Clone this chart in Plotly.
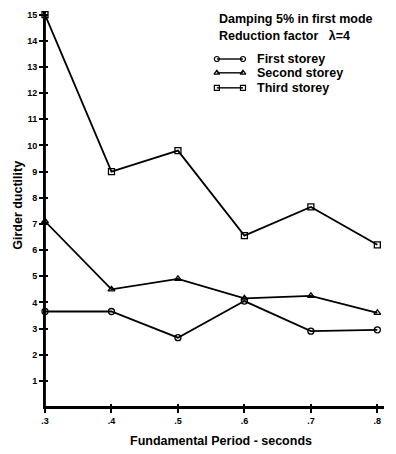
import plotly.graph_objects as go

period = [0.3, 0.4, 0.5, 0.6, 0.7, 0.8]
first_storey = [3.65, 3.65, 2.65, 4.05, 2.9, 2.95]
second_storey = [7.1, 4.5, 4.9, 4.15, 4.25, 3.6]
third_storey = [15.0, 9.0, 9.8, 6.55, 7.65, 6.2]
series_names = ["First storey", "Second storey", "Third storey"]
x_ticks = [0.3, 0.4, 0.5, 0.6, 0.7, 0.8]
x_tick_labels = [".3", ".4", ".5", ".6", ".7", ".8"]
y_ticks = list(range(1, 16))

FONT = "Liberation Sans"
TXT = dict(family=FONT, size=12.5, color="black", weight="bold")
TICKF = dict(family=FONT, size=9, color="black", weight="bold")
X_RANGE = [0.3, 0.81]
Y_RANGE = [0, 15.1]

fig = go.Figure()
symbols = ["circle-open", "triangle-up-open", "square-open"]
for name, vals, sym in zip(series_names, [first_storey, second_storey, third_storey], symbols):
    fig.add_trace(go.Scatter(
        x=period, y=vals, name=name, mode="lines+markers",
        line=dict(color="black", width=1.8),
        marker=dict(symbol=sym, size=6, color="black", line=dict(width=1.3, color="black")),
        cliponaxis=False, showlegend=False,
    ))

# manual compact legend (glyphs on an overlay axis spanning the plot area in 0..1 units)
leg_rows = [0.881, 0.846, 0.808]
gx0, gx1, tx = 0.507, 0.584, 0.619
for name, sym, ry in zip(series_names, symbols, leg_rows):
    fig.add_trace(go.Scatter(
        x=[gx0, gx1], y=[ry, ry], mode="lines+markers", xaxis="x2", yaxis="y2",
        line=dict(color="black", width=1.4),
        marker=dict(symbol=sym, size=5, color="black", line=dict(width=1.2, color="black")),
        showlegend=False, hoverinfo="skip", cliponaxis=False,
    ))

axis_common = dict(showgrid=False, zeroline=False, showline=True, linecolor="black", linewidth=1.8,
                   ticks="outside", ticklen=4, tickwidth=1.5, tickcolor="black", automargin=False,
                   tickfont=TICKF)
hidden = dict(showgrid=False, zeroline=False, showline=False, showticklabels=False, ticks="")

annotations = [
    dict(text="Damping 5% in first mode", x=gx0, y=0.982, xref="paper", yref="paper",
         xanchor="left", yanchor="middle", showarrow=False, font=TXT),
    dict(text="Reduction factor   \u03bb=4", x=gx0, y=0.939, xref="paper", yref="paper",
         xanchor="left", yanchor="middle", showarrow=False, font=TXT),
]
for name, ry in zip(series_names, leg_rows):
    annotations.append(dict(text=name, x=tx, y=ry, xref="paper", yref="paper",
                            xanchor="left", yanchor="middle", showarrow=False, font=TXT))
annotations.append(dict(text="Girder ductility", x=-0.082, y=0.51, xref="paper", yref="paper",
                        textangle=-90, xanchor="center", yanchor="middle", showarrow=False, font=TXT))
annotations.append(dict(text="Fundamental Period - seconds", x=0.52, y=-0.085, xref="paper", yref="paper",
                        xanchor="center", yanchor="middle", showarrow=False, font=TXT))

fig.update_layout(
    width=396, height=454,
    margin=dict(l=45, r=12, t=12, b=47),
    paper_bgcolor="white", plot_bgcolor="white",
    showlegend=False,
    xaxis=dict(range=X_RANGE, tickvals=x_ticks, ticktext=x_tick_labels, **axis_common),
    yaxis=dict(range=Y_RANGE, tickvals=y_ticks, **axis_common),
    xaxis2=dict(range=[0, 1], overlaying="x", **hidden),
    yaxis2=dict(range=[0, 1], overlaying="y", **hidden),
    xaxis3=dict(range=X_RANGE, overlaying="x", tickvals=x_ticks, showgrid=False, zeroline=False,
                showline=False, showticklabels=False, ticks="inside", ticklen=3, tickwidth=1.5, tickcolor="black"),
    yaxis3=dict(range=Y_RANGE, overlaying="y", tickvals=y_ticks, showgrid=False, zeroline=False,
                showline=False, showticklabels=False, ticks="inside", ticklen=3, tickwidth=1.5, tickcolor="black"),
    annotations=annotations,
    shapes=[
        dict(type="line", xref="paper", yref="paper", x0=0, x1=0, y0=0, y1=1.0,
             line=dict(color="black", width=1.8), layer="above"),
        dict(type="line", xref="paper", yref="paper", x0=0, x1=1.0, y0=0, y1=0,
             line=dict(color="black", width=1.8), layer="above"),
    ],
)
# invisible trace to activate the inside-tick overlay axes
fig.add_trace(go.Scatter(x=[None], y=[None], xaxis="x3", yaxis="y3", showlegend=False, hoverinfo="skip"))
fig.write_html("out.html", config={"displayModeBar": False},
               post_script="document.body.style.margin='0';")
